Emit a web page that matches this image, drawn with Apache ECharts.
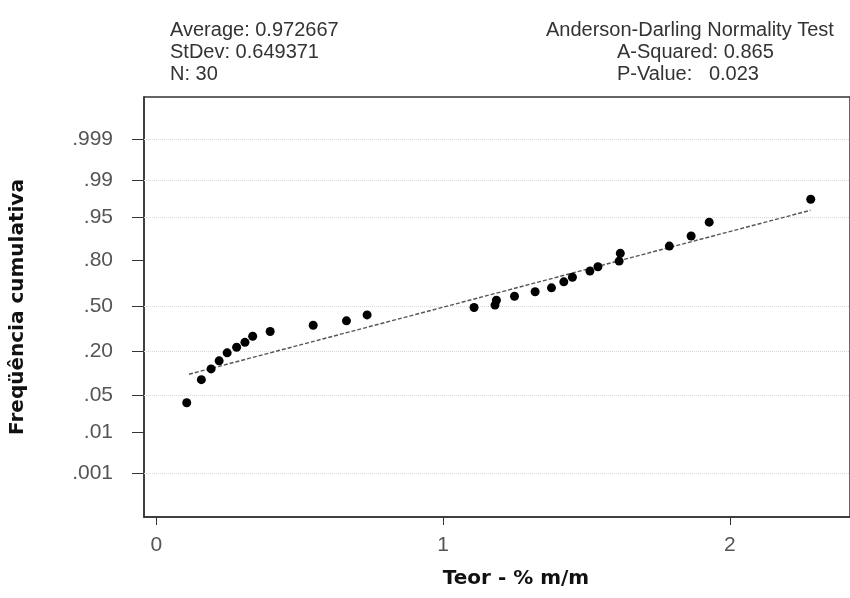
<!DOCTYPE html>
<html>
<head>
<meta charset="utf-8">
<script src="https://cdn.jsdelivr.net/npm/echarts@6/dist/echarts.min.js"></script>
<style>
  html, body { margin: 0; padding: 0; background: #fff; }
  #chart { width: 850px; height: 598px; }
</style>
</head>
<body>
<div id="chart"></div>
<script>
const teor = [0.106, 0.157, 0.191, 0.219, 0.247, 0.280, 0.309, 0.336, 0.397, 0.547,
              0.663, 0.735, 1.108, 1.181, 1.186, 1.249, 1.321, 1.378, 1.421, 1.451,
              1.512, 1.540, 1.614, 1.618, 1.789, 1.865, 1.928, 2.282];
const freqCum = [0.037, 0.087, 0.123, 0.156, 0.194, 0.224, 0.252, 0.289, 0.320, 0.362,
                 0.393, 0.436, 0.490, 0.508, 0.544, 0.573, 0.605, 0.633, 0.674, 0.704,
                 0.742, 0.767, 0.798, 0.836, 0.867, 0.903, 0.940, 0.976];
const fitTeor = [0.114, 2.281];
const fitFreq = [0.104, 0.962];
const yTickProbs = [0.001, 0.01, 0.05, 0.20, 0.50, 0.80, 0.95, 0.99, 0.999];
const yTickLabels = ['.001', '.01', '.05', '.20', '.50', '.80', '.95', '.99', '.999'];
const gridProbs = [0.001, 0.05, 0.20, 0.50, 0.95, 0.99, 0.999];
const xTicks = [0, 1, 2];
const statsLeft = ['Average: 0.972667', 'StDev: 0.649371', 'N: 30'];
const statsRight = ['A-Squared: 0.865', 'P-Value:   0.023'];

// inversa da normal padrão (Acklam)
function probit(p) {
    const a = [-3.969683028665376e+01, 2.209460984245205e+02, -2.759285104469687e+02, 1.383577518672690e+02, -3.066479806614716e+01, 2.506628277459239e+00];
    const b = [-5.447609879822406e+01, 1.615858368580409e+02, -1.556989798598866e+02, 6.680131188771972e+01, -1.328068155288572e+01];
    const c = [-7.784894002430293e-03, -3.223964580411365e-01, -2.400758277161838e+00, -2.549732539343734e+00, 4.374664141464968e+00, 2.938163982698783e+00];
    const d = [7.784695709041462e-03, 3.224671290700398e-01, 2.445134137142996e+00, 3.754408661907416e+00];
    const plow = 0.02425;
    let q, r;
    if (p < plow) {
        q = Math.sqrt(-2 * Math.log(p));
        return (((((c[0] * q + c[1]) * q + c[2]) * q + c[3]) * q + c[4]) * q + c[5]) /
            ((((d[0] * q + d[1]) * q + d[2]) * q + d[3]) * q + 1);
    }
    if (p > 1 - plow) {
        q = Math.sqrt(-2 * Math.log(1 - p));
        return -(((((c[0] * q + c[1]) * q + c[2]) * q + c[3]) * q + c[4]) * q + c[5]) /
            ((((d[0] * q + d[1]) * q + d[2]) * q + d[3]) * q + 1);
    }
    q = p - 0.5;
    r = q * q;
    return (((((a[0] * r + a[1]) * r + a[2]) * r + a[3]) * r + a[4]) * r + a[5]) * q /
        (((((b[0] * r + b[1]) * r + b[2]) * r + b[3]) * r + b[4]) * r + 1);
}

const yTickZ = yTickProbs.map(probit);
const chart = echarts.init(document.getElementById('chart'));
const headerStyle = { fontFamily: 'Liberation Sans, Arial', fontSize: 20, fontWeight: 'normal', color: '#333', lineHeight: 22 };

const option = {
    animation: false,
    title: [
        { text: statsLeft.join('\n'), left: 165, top: 14, textStyle: headerStyle },
        { text: 'Anderson-Darling Normality Test', left: 541, top: 14, textStyle: headerStyle },
        { text: statsRight.join('\n'), left: 612, top: 36, textStyle: headerStyle }
    ],
    grid: {
        left: 141, top: 97, right: -5, bottom: 81,
        show: true, borderColor: '#333', borderWidth: 1.5, backgroundColor: '#fff'
    },
    xAxis: {
        type: 'value',
        min: -0.043, max: 2.419,
        name: 'Teor - % m/m',
        nameLocation: 'middle',
        nameGap: 52,
        nameTextStyle: { fontFamily: 'DejaVu Sans', fontWeight: 'bold', fontSize: 20, color: '#111', padding: [0, 0, 0, 38] },
        axisLine: { show: true, onZero: false, lineStyle: { color: '#333', width: 1.5 } },
        axisTick: { show: true, length: 8, customValues: xTicks, lineStyle: { color: '#333' } },
        axisLabel: {
            customValues: xTicks, margin: 18,
            fontFamily: 'Liberation Sans, Arial', fontSize: 21, color: '#555'
        },
        splitLine: { show: false }
    },
    yAxis: {
        type: 'value',
        min: -3.9, max: 3.87,
        name: 'Freqüência cumulativa',
        nameLocation: 'middle',
        nameGap: 116,
        nameTextStyle: { fontFamily: 'DejaVu Sans', fontWeight: 'bold', fontSize: 20, color: '#111' },
        axisLine: { show: true, onZero: false, lineStyle: { color: '#333', width: 1.5 } },
        axisTick: { show: true, length: 12, customValues: yTickZ, lineStyle: { color: '#333' } },
        axisLabel: {
            customValues: yTickZ, margin: 31,
            fontFamily: 'Liberation Sans, Arial', fontSize: 21, color: '#555',
            formatter: function (v) {
                for (let i = 0; i < yTickZ.length; i++) {
                    if (Math.abs(yTickZ[i] - v) < 1e-6) return yTickLabels[i];
                }
                return '';
            }
        },
        splitLine: { show: false }
    },
    series: [
        {
            name: 'ajuste',
            type: 'line',
            data: fitTeor.map((x, i) => [x, probit(fitFreq[i])]),
            symbol: 'none',
            lineStyle: { color: '#555', width: 1.4, type: [4, 2] },
            markLine: {
                silent: true,
                z: 1,
                symbol: 'none',
                label: { show: false },
                lineStyle: { color: '#d8d8d8', type: 'dotted', width: 1 },
                data: gridProbs.map(p => ({ yAxis: probit(p) }))
            },
            z: 2
        },
        {
            name: 'dados',
            type: 'scatter',
            data: teor.map((x, i) => [x, probit(freqCum[i])]),
            symbol: 'circle',
            symbolSize: 9,
            itemStyle: { color: '#000', opacity: 1 },
            z: 3
        }
    ]
};
chart.setOption(option);
</script>
</body>
</html>
